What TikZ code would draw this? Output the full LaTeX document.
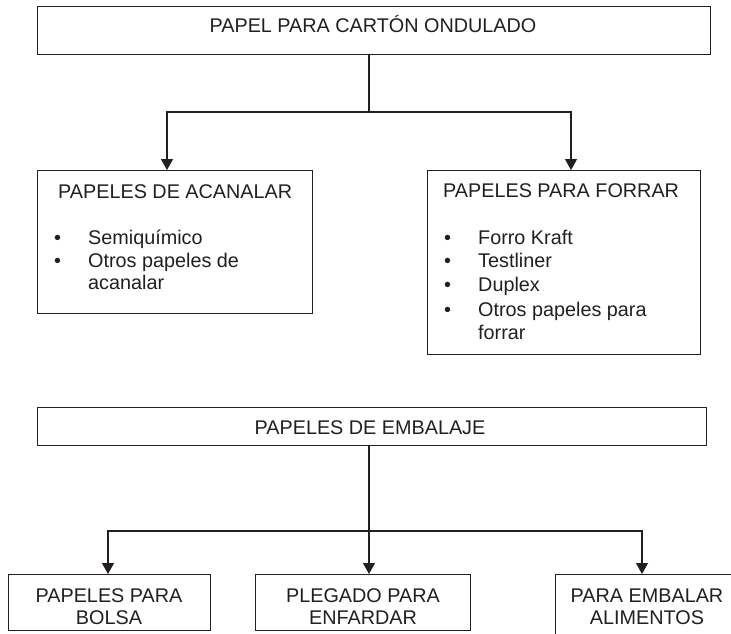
\documentclass[tikz,border=0pt]{standalone}
\usepackage{fontspec}
\setmainfont{Liberation Sans}
\usetikzlibrary{arrows.meta}
\definecolor{ink}{HTML}{231F20}
\begin{document}
\begin{tikzpicture}[x=1pt,y=-1pt,
  box/.style={draw=ink,line width=1.1pt,rectangle,inner sep=0pt,anchor=north west},
  txt/.style={inner sep=0pt,font=\fontsize{19.8}{23}\selectfont,text=ink},
  ln/.style={draw=ink,line width=1.2pt},
  arr/.style={draw=ink,line width=1.2pt,-{Triangle[width=12pt,length=11pt]}}]
\useasboundingbox (0,0) rectangle (731,634);
\clip (0,0) rectangle (731,634);
\fill[white] (0,0) rectangle (731,634);
% boxes
\node[box,minimum width=673pt,minimum height=48pt] (top) at (37,6) {};
\node[box,minimum width=275pt,minimum height=143pt] (acan) at (37,170) {};
\node[box,minimum width=273pt,minimum height=184pt] (forr) at (427,170) {};
\node[box,minimum width=669pt,minimum height=38pt] (emb) at (37,407) {};
\node[box,minimum width=202pt,minimum height=56pt] (bol) at (8,574) {};
\node[box,minimum width=215pt,minimum height=56pt] (ple) at (255,574) {};
\node[box,minimum width=190pt,minimum height=75pt] (ali) at (555,574) {};
% texts
\node[txt,anchor=base] (ttop) at (373,33) {PAPEL PARA CARTÓN ONDULADO};
\node[txt,anchor=base west] (tacan) at (58,198) {PAPELES DE ACANALAR};
\node[txt,anchor=base west] (bA1) at (54,244) {\textbullet};
\node[txt,anchor=base west] (iA1) at (88,244) {Semiquímico};
\node[txt,anchor=base west] (bA2) at (54,267) {\textbullet};
\node[txt,anchor=base west] (iA2) at (88,267) {Otros papeles de};
\node[txt,anchor=base west] (iA3) at (88,289) {acanalar};
\node[txt,anchor=base west] (tforr) at (443,197) {PAPELES PARA FORRAR};
\node[txt,anchor=base west] (bF1) at (444,244) {\textbullet};
\node[txt,anchor=base west] (iF1) at (478,244) {Forro Kraft};
\node[txt,anchor=base west] (bF2) at (444,267) {\textbullet};
\node[txt,anchor=base west] (iF2) at (478,267) {Testliner};
\node[txt,anchor=base west] (bF3) at (444,291) {\textbullet};
\node[txt,anchor=base west] (iF3) at (478,291) {Duplex};
\node[txt,anchor=base west] (bF4) at (444,316) {\textbullet};
\node[txt,anchor=base west] (iF4) at (478,316) {Otros papeles para};
\node[txt,anchor=base west] (iF5) at (478,339) {forrar};
\node[txt,anchor=base] (temb) at (370,434) {PAPELES DE EMBALAJE};
\node[txt,anchor=base] (tb1) at (109,602) {PAPELES PARA};
\node[txt,anchor=base] (tb2) at (109,624) {BOLSA};
\node[txt,anchor=base] (tp1) at (363,602) {PLEGADO PARA};
\node[txt,anchor=base] (tp2) at (363,624) {ENFARDAR};
\node[txt,anchor=base] (ta1) at (647,602) {PARA EMBALAR};
\node[txt,anchor=base] (ta2) at (647,624) {ALIMENTOS};
% connectors
\coordinate (j1) at (369,112);
\coordinate (a1) at (167,170);
\coordinate (a2) at (571,170);
\draw[ln] (top.south -| j1) -- (j1);
\draw[arr] (j1) -| (a1);
\draw[arr] (j1) -| (a2);
\coordinate (j2) at (369,531);
\coordinate (c1) at (108,574);
\coordinate (c2) at (369,574);
\coordinate (c3) at (642,574);
\draw[ln] (emb.south -| j2) -- (j2);
\draw[arr] (j2) -| (c1);
\draw[arr] (j2) -- (c2);
\draw[arr] (j2) -| (c3);
\end{tikzpicture}
\end{document}
